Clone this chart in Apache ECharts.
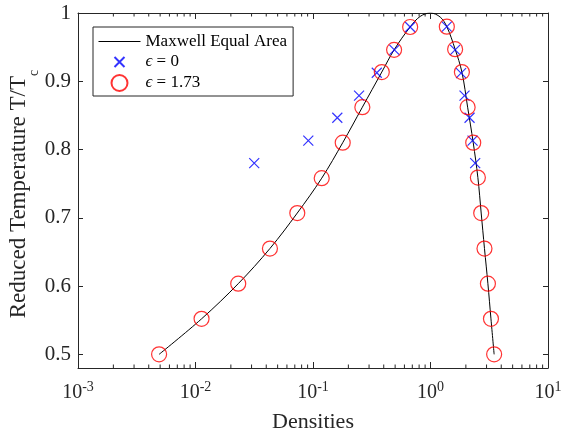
<!DOCTYPE html>
<html>
<head>
<meta charset="utf-8">
<script src="https://cdn.jsdelivr.net/npm/echarts@6/dist/echarts.min.js"></script>
<style>
html,body{margin:0;padding:0;background:#fff;}
#main{width:561px;height:433px;}
</style>
</head>
<body>
<div id="main"></div>
<script>
// Maxwell equal area curve (density, T/Tc)
var curveD = [0.0049, 0.01126, 0.0231, 0.0430, 0.0735, 0.1186, 0.179, 0.263, 0.385, 0.490, 0.671, 0.817, 1.0, 1.21, 1.377, 1.62, 1.85, 2.07, 2.31, 2.53, 2.70, 2.88, 3.08, 3.27, 3.48];
var curveT = [0.5, 0.552, 0.6035, 0.655, 0.707, 0.758, 0.810, 0.862, 0.9135, 0.946, 0.9795, 0.995, 1.0, 0.994, 0.980, 0.947, 0.9135, 0.862, 0.810, 0.759, 0.707, 0.655, 0.6035, 0.552, 0.5];

// epsilon = 0
var crossD = [0.0316, 0.0912, 0.161, 0.2466, 0.349, 0.493, 0.671, 1.377, 1.62, 1.82, 1.948, 2.15, 2.28, 2.40];
var crossT = [0.780, 0.813, 0.8465, 0.879, 0.9125, 0.946, 0.9795, 0.980, 0.946, 0.912, 0.879, 0.8465, 0.813, 0.780];

// epsilon = 1.73
var circleD = [0.0049, 0.01126, 0.0231, 0.0430, 0.0735, 0.1186, 0.179, 0.263, 0.385, 0.490, 0.671, 1.377, 1.62, 1.85, 2.07, 2.31, 2.53, 2.70, 2.88, 3.08, 3.27, 3.48];
var circleT = [0.5, 0.552, 0.6035, 0.655, 0.707, 0.758, 0.810, 0.862, 0.9135, 0.946, 0.9795, 0.980, 0.947, 0.9135, 0.862, 0.810, 0.759, 0.707, 0.655, 0.6035, 0.552, 0.5];

var yTicks = [0.5, 0.6, 0.7, 0.8, 0.9, 1];
var minorTicks = [];
[0.001, 0.01, 0.1, 1].forEach(function(d){
	for (var k = 2; k <= 9; k++) minorTicks.push(d * k);
});
var xMin = 0.001, xMax = 10, yMin = 0.48, yMax = 1;

function pairs(a, b){
	return a.map(function(v, i){ return [v, b[i]]; });
}

var axisCol = '#262626';
var serif = 'Liberation Serif';

var myChart = echarts.init(document.getElementById('main'));
var option = {
	animation: false,
	backgroundColor: '#fff',
	grid: { left: 78, right: 13, top: 13, bottom: 65, outerBoundsMode: 'none', containLabel: false },
	legend: {
		data: [
			{ name: 'Maxwell Equal Area', itemStyle: { opacity: 0 }, lineStyle: { width: 1, color: '#000' } },
			'ϵ = 0',
			'ϵ = 1.73'
		],
		orient: 'vertical',
		left: 93, top: 27,
		padding: [6, 6, 4, 5],
		itemWidth: 42, itemHeight: 16, itemGap: 3,
		borderColor: axisCol, borderWidth: 1,
		backgroundColor: '#fff',
		formatter: function(name){ return name.replace('ϵ', '{e|ϵ}'); },
		textStyle: {
			fontFamily: serif, fontSize: 17, color: '#000', lineHeight: 16,
			rich: { e: { fontFamily: serif, fontStyle: 'italic', fontSize: 17, color: '#000', lineHeight: 16 } }
		}
	},
	xAxis: [{
		type: 'log', logBase: 10, min: xMin, max: xMax, position: 'bottom',
		name: 'Densities', nameLocation: 'middle', nameGap: 43, nameMoveOverlap: false,
		nameTextStyle: { fontFamily: serif, fontSize: 22, color: '#262626' },
		axisLine: { lineStyle: { color: axisCol, width: 1 } },
		axisTick: { inside: true, length: 6, lineStyle: { color: axisCol } },
		splitLine: { show: false },
		axisLabel: {
			margin: 12, showMinLabel: true, showMaxLabel: true,
			formatter: function(v){
				var e = Math.round(Math.log(v) / Math.LN10);
				return '{a|10}{b|' + e + '}';
			},
			rich: {
				a: { fontFamily: serif, fontSize: 20, color: '#262626' },
				b: { fontFamily: serif, fontSize: 14, color: '#262626', verticalAlign: 'top', padding: [0, 0, 12, 0] }
			}
		}
	}, {
		type: 'log', logBase: 10, min: xMin, max: xMax, position: 'top',
		axisLine: { lineStyle: { color: axisCol, width: 1 } },
		axisTick: { inside: true, length: 6, lineStyle: { color: axisCol } },
		axisLabel: { show: false },
		splitLine: { show: false }
	}],
	yAxis: [{
		type: 'value', min: yMin, max: yMax, position: 'left',
		name: 'Reduced Temperature T/T{c|c}', nameLocation: 'middle', nameGap: 37, nameMoveOverlap: false,
		nameTextStyle: {
			fontFamily: serif, fontSize: 23, color: '#262626', padding: [0, 7, 0, 0],
			rich: { c: { fontFamily: serif, fontSize: 14, color: '#262626', verticalAlign: 'bottom', padding: [30, 0, 0, 0] } }
		},
		axisLine: { show: true, lineStyle: { color: axisCol, width: 1 } },
		axisTick: { inside: true, length: 5, customValues: yTicks, lineStyle: { color: axisCol } },
		splitLine: { show: false },
		axisLabel: {
			margin: 7, customValues: yTicks,
			fontFamily: serif, fontSize: 21, color: '#262626',
			formatter: function(v){ return v === 1 ? '1' : v.toFixed(1); }
		}
	}, {
		type: 'value', min: yMin, max: yMax, position: 'right',
		axisLine: { show: true, lineStyle: { color: axisCol, width: 1 } },
		axisTick: { inside: true, length: 5, customValues: yTicks, lineStyle: { color: axisCol } },
		axisLabel: { show: false },
		splitLine: { show: false }
	}],
	series: [{
		name: 'minor',
		type: 'custom',
		silent: true,
		clip: false,
		data: minorTicks.map(function(v){ return [v, yMin]; }),
		renderItem: function(params, api){
			var v = api.value(0);
			var b = api.coord([v, yMin]);
			var t = api.coord([v, yMax]);
			var st = { stroke: axisCol, lineWidth: 1 };
			return { type: 'group', children: [
				{ type: 'line', shape: { x1: b[0], y1: b[1], x2: b[0], y2: b[1] - 3.5 }, style: st },
				{ type: 'line', shape: { x1: t[0], y1: t[1], x2: t[0], y2: t[1] + 3.5 }, style: st }
			] };
		}
	}, {
		name: 'Maxwell Equal Area',
		type: 'line',
		data: pairs(curveD, curveT),
		symbol: 'none',
		smooth: 0.35,
		lineStyle: { color: '#000', width: 1 },
		itemStyle: { color: '#000' },
		z: 3
	}, {
		name: 'ϵ = 0',
		type: 'scatter',
		data: pairs(crossD, crossT),
		symbol: 'path://M3,3L13,13M13,3L3,13M0,0L0,0M16,16L16,16',
		symbolSize: 16,
		itemStyle: { color: 'transparent', borderColor: '#0000ff', borderWidth: 1.2 },
		z: 4
	}, {
		name: 'ϵ = 1.73',
		type: 'scatter',
		data: pairs(circleD, circleT),
		symbol: 'circle',
		symbolSize: 15,
		itemStyle: { color: 'transparent', borderColor: '#ff0000', borderWidth: 1.2 },
		z: 5
	}]
};
myChart.setOption(option);
</script>
</body>
</html>
